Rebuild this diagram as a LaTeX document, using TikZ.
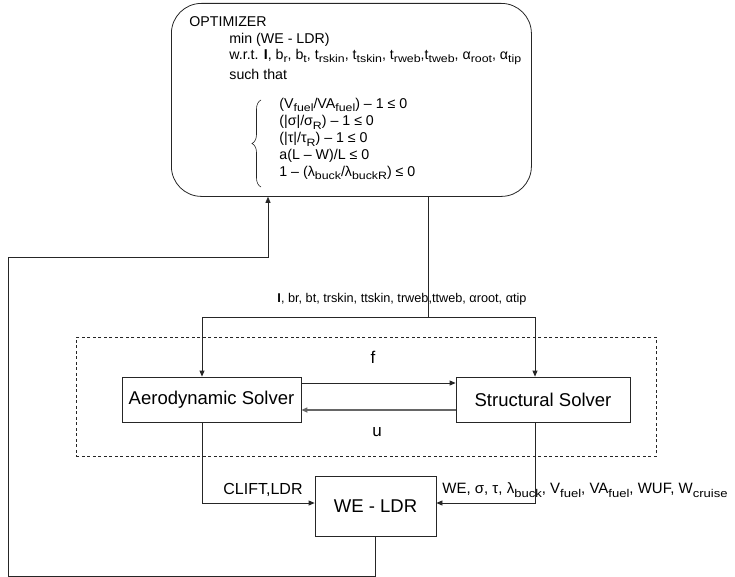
\documentclass[tikz,border=0pt]{standalone}
\usepackage{fontspec}
\usepackage{graphicx}
\setmainfont{Liberation Sans}
\usetikzlibrary{arrows.meta,decorations.pathreplacing,calc}
\newcommand\sbs[1]{\raisebox{-0.5ex}{\scalebox{0.87}[0.75]{#1}}}
\begin{document}
\begin{tikzpicture}[x=1bp,y=-1bp, line width=0.8bp, draw=black!85,
  arr/.style={-{Triangle[length=6bp,width=5bp]}},
  txt/.style={inner sep=0pt, anchor=west, font=\fontsize{14.2bp}{16bp}\selectfont},
  solver/.style={draw, inner sep=0pt, minimum height=45bp, font=\fontsize{18.5bp}{20bp}\selectfont},
  lbl/.style={inner sep=0pt, font=\fontsize{15bp}{17bp}\selectfont}]
\useasboundingbox (0,0) rectangle (735,577);

% optimizer
\node[draw, rounded corners=30bp, minimum width=360bp, minimum height=193bp, anchor=north west, inner sep=0pt] (opt) at (171,3) {};
\node[txt] (o1) at (189,22) {OPTIMIZER};
\node[txt] (o2) at (229,40) {min (WE - LDR)};
\node[txt] (o3) at (229,57) {w.r.t. {\bfseries I}, b\sbs{r}, b\sbs{t}, t\sbs{rskin}, t\sbs{tskin}, t\sbs{rweb},t\sbs{tweb}, α\sbs{root}, α\sbs{tip}};
\node[txt] (o4) at (229,74) {such that};
\node[txt] (k1) at (279,105) {(V\sbs{fuel}/VA\sbs{fuel}) – 1 ≤ 0};
\node[txt] (k2) at (279,122) {(|σ|/σ\sbs{R}) – 1 ≤ 0};
\node[txt] (k3) at (279,139) {(|τ|/τ\sbs{R}) – 1 ≤ 0};
\node[txt] (k4) at (279,156) {a(L – W)/L ≤ 0};
\node[txt] (k5) at (279,173) {1 – (λ\sbs{buck}/λ\sbs{buckR}) ≤ 0};
\draw[line width=0.6bp, decorate, decoration={brace, amplitude=9bp}] (261,187) -- (261,100);

% solvers
\node[draw, dashed, dash pattern=on 3bp off 2.5bp, minimum width=580bp, minimum height=119bp, anchor=north west, inner sep=0pt] (loop) at (76,337) {};
\node[solver, minimum width=179bp] (aero) at (211.5,399.5) {Aerodynamic Solver};
\node[solver, minimum width=174bp] (struct) at (543,399.5) {Structural Solver};
\node[lbl, font=\fontsize{17bp}{18bp}\selectfont] (f) at (373,357) {f};
\node[lbl, font=\fontsize{17bp}{18bp}\selectfont] (u) at (377,432) {u};

% WE-LDR
\node[draw, inner sep=0pt, minimum width=121bp, minimum height=60bp, font=\fontsize{18.5bp}{20bp}\selectfont] (we) at (375.5,506) {WE - LDR};

% labels
\node[inner sep=0pt, font=\fontsize{12.7bp}{14bp}\selectfont] (lab) at (402,299) {{\bfseries I}, br, bt, trskin, ttskin, trweb,ttweb, αroot, αtip};
\node[lbl, font=\fontsize{16bp}{17bp}\selectfont] (cl) at (263,490) {CLIFT,LDR};
\node[lbl, anchor=west] (rl) at (442,490) {WE, σ, τ, λ\sbs{buck}, V\sbs{fuel}, VA\sbs{fuel}, WUF, W\sbs{cruise}};

% coordinates
\coordinate (c1) at (8,576);
\coordinate (c2) at (268,257);
\coordinate (s) at (428,317);
\coordinate (la) at (202,317);
\coordinate (ra) at (535,317);
\coordinate (fy) at (0,383);
\coordinate (uy) at (0,410);
\coordinate (ya) at (0,503);

% connectors
\draw[arr] (we.south) |- (c1) |- (c2) -- (c2 |- opt.south);
\draw (s |- opt.south) -- (s);
\draw (la) -- (ra);
\draw[arr] (la) -- (la |- aero.north);
\draw[arr] (ra) -- (ra |- struct.north);
\draw[arr] (aero.east |- fy) -- (struct.west |- fy);
\draw[arr, draw=black!60, line width=1.5bp] (struct.west |- uy) -- (aero.east |- uy);
\draw[arr] (la |- aero.south) |- (we.west |- ya);
\draw[arr] (ra |- struct.south) |- (we.east |- ya);
\end{tikzpicture}
\end{document}
